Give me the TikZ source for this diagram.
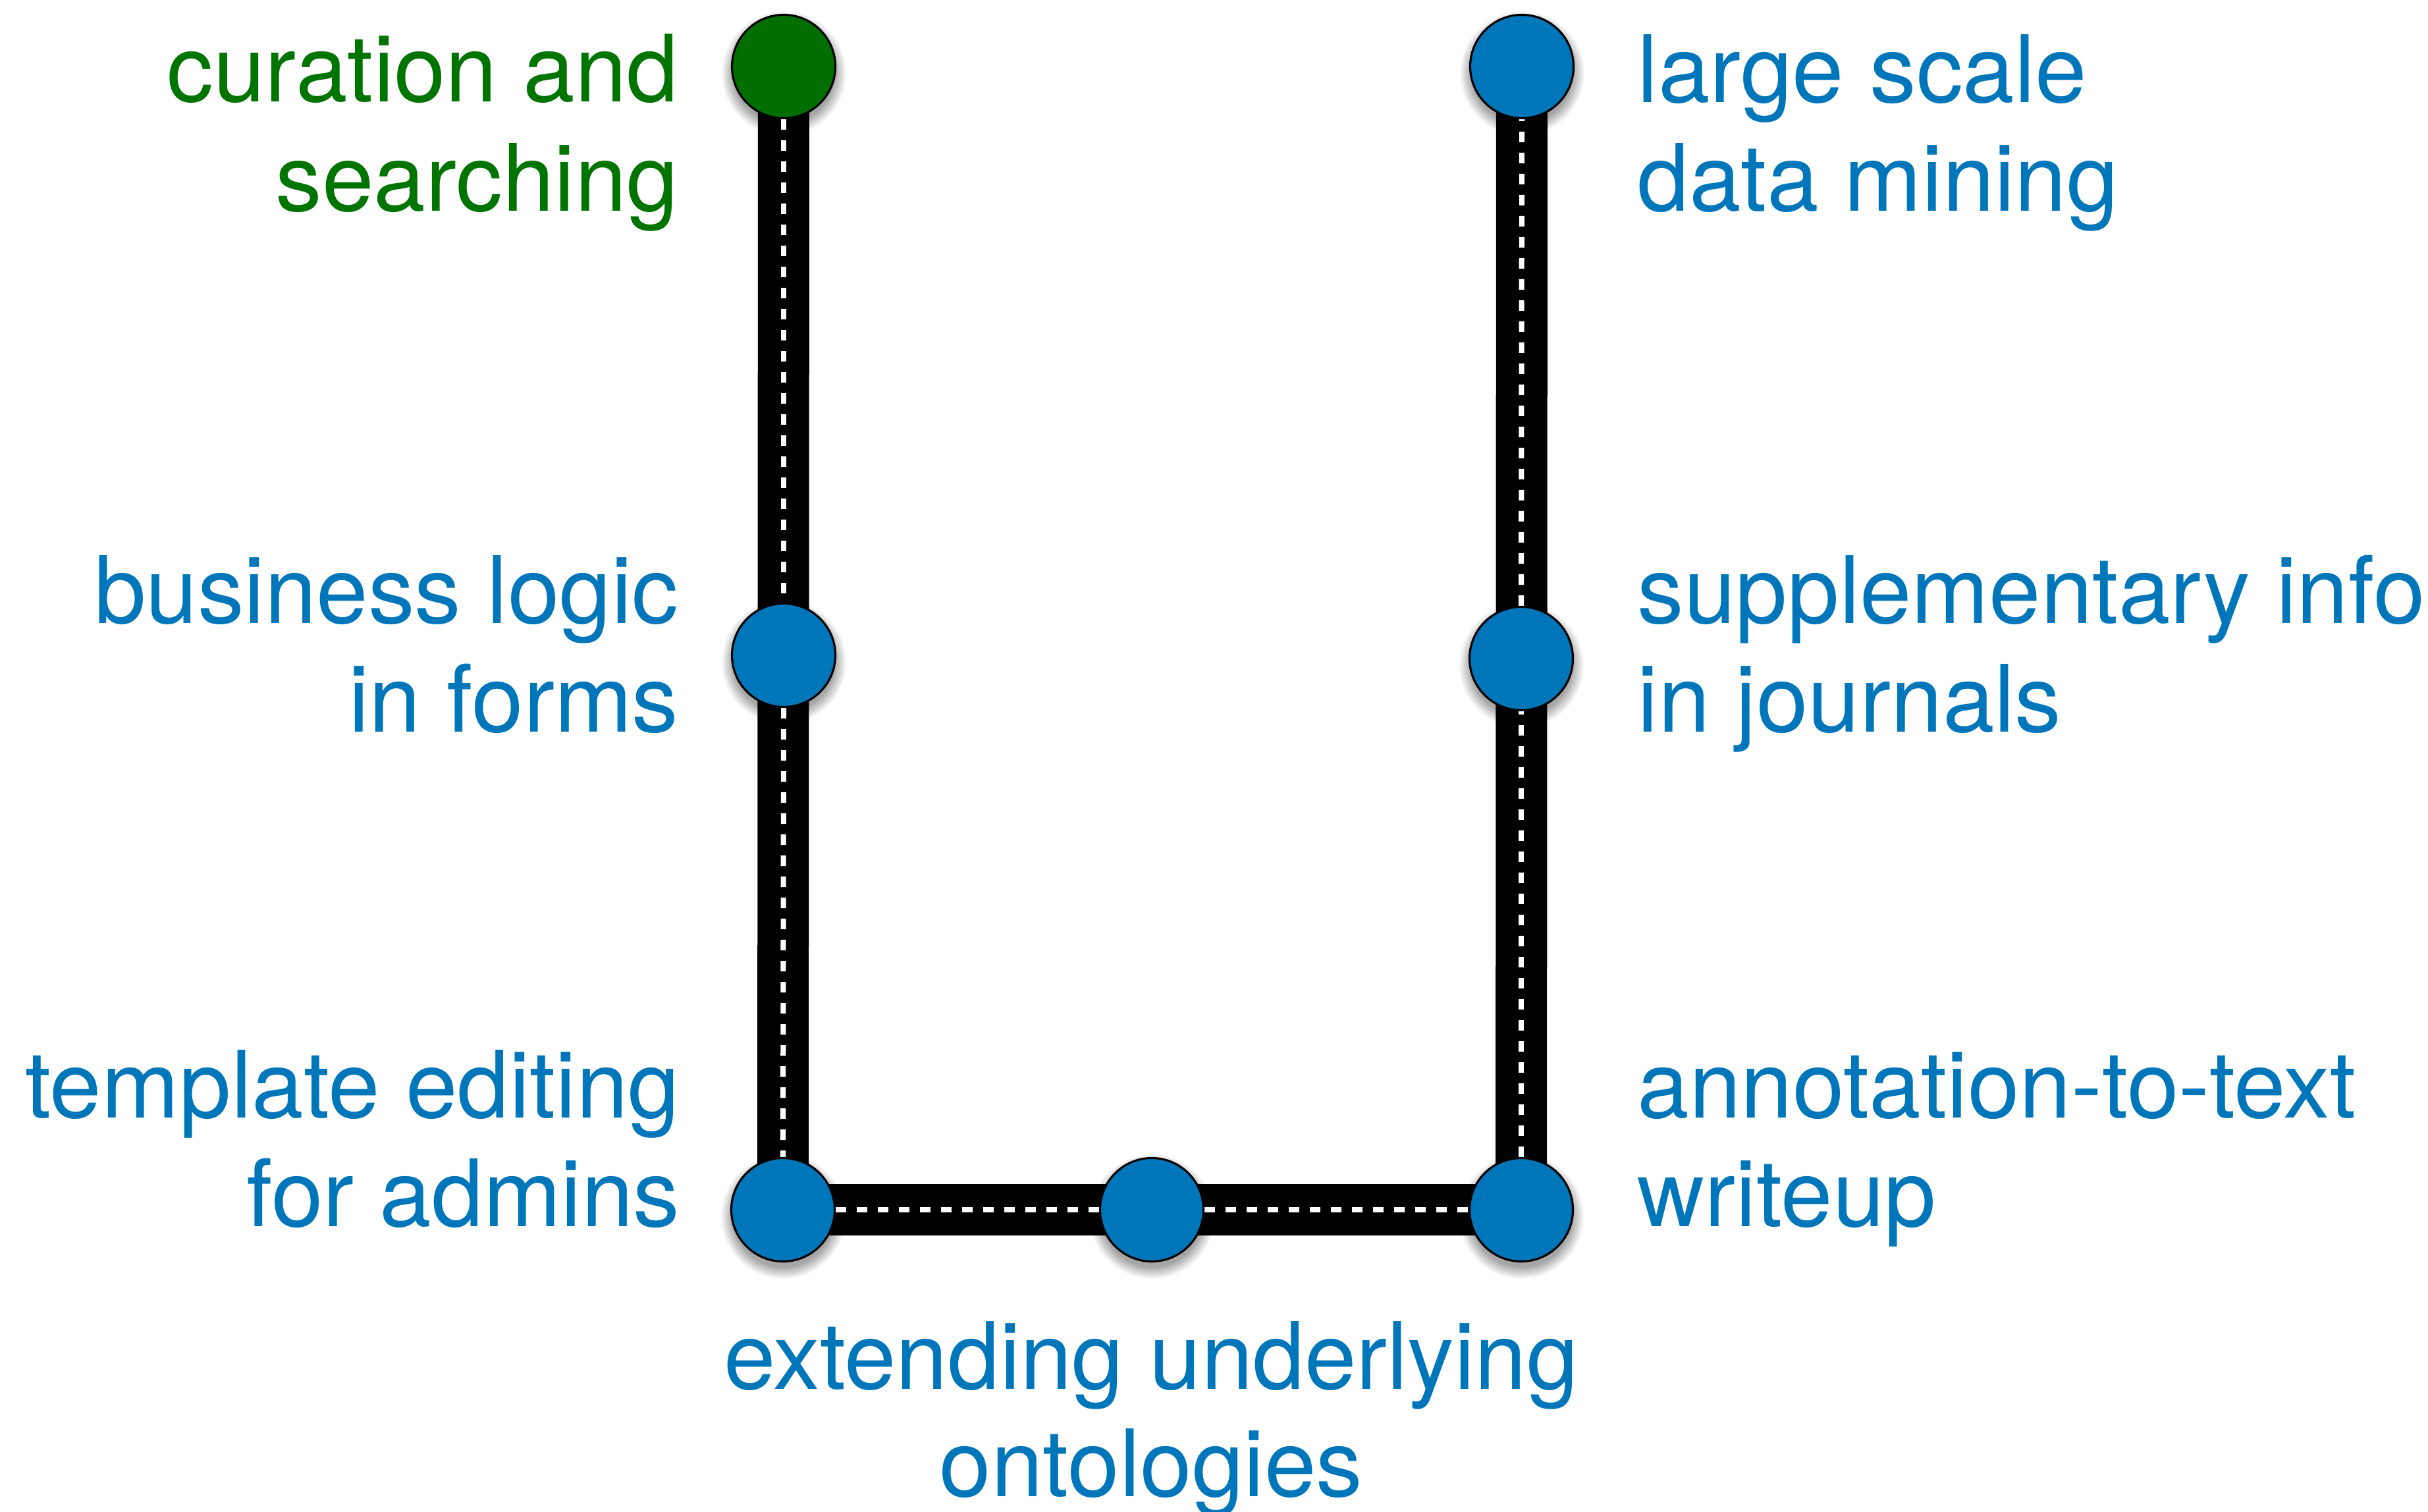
\documentclass[tikz,border=0pt]{standalone}
\usepackage{fontspec}
\setmainfont{TeX Gyre Heros}
\usetikzlibrary{backgrounds,fadings}
\definecolor{kblue}{RGB}{0,118,186}
\definecolor{kgreen}{RGB}{0,111,0}
\definecolor{tgreen}{RGB}{0,116,0}
\tikzset{
  stop/.style={circle, draw=black, line width=0.9pt, minimum size=1.57cm, inner sep=0pt, fill=kblue},
  lbl/.style={inner sep=0pt, font=\fontsize{40.2pt}{47pt}\selectfont, text=kblue},
  lblL/.style={lbl, anchor=base east},
  lblR/.style={lbl, anchor=base west},
  lblC/.style={lbl, anchor=base},
  track/.style={line width=0.78cm, black, line join=miter},
  trackdash/.style={line width=0.08cm, white, dash pattern=on 0.16cm off 0.16cm},
  shadowblob/.style={fill=black, opacity=0.35, path fading=circle with fuzzy edge 20 percent}
}
\begin{document}
\begin{tikzpicture}
\useasboundingbox (0,0) rectangle (36.87,-22.96);

% stations
\node[stop, fill=kgreen] (cur) at (11.90,-1.01) {};
\node[stop] (bus) at (11.90,-9.95) {};
\node[stop] (tpl) at (11.89,-18.37) {};
\node[stop] (ext) at (17.49,-18.37) {};
\node[stop] (ann) at (23.10,-18.37) {};
\node[stop] (sup) at (23.10,-10.00) {};
\node[stop] (lrg) at (23.11,-1.01) {};

\begin{scope}[on background layer]
  \foreach \n in {cur,bus,tpl,ext,ann,sup,lrg}{
    \fill[shadowblob] ([yshift=-0.10cm]\n.center) circle (0.95cm);
  }
  \draw[track] (cur.center) -- (tpl.center) -- (ann.center) -- (lrg.center);
  \draw[trackdash] (cur.south) -- (bus.north);
  \draw[trackdash] (bus.south) -- (tpl.north);
  \draw[trackdash] (tpl.east) -- (ext.west);
  \draw[trackdash] (ext.east) -- (ann.west);
  \draw[trackdash] (ann.north) -- (sup.south);
  \draw[trackdash] (sup.north) -- (lrg.south);
\end{scope}

% labels left
\node[lblL, text=tgreen] (curA) at (10.31,-1.55) {curation and};
\node[lblL, text=tgreen] (curB) at (10.31,-3.21) {searching};
\node[lblL] (busA) at (10.31,-9.47) {business logic};
\node[lblL] (busB) at (10.31,-11.12) {in forms};
\node[lblL] (tplA) at (10.33,-16.97) {template editing};
\node[lblL] (tplB) at (10.33,-18.62) {for admins};

% labels right
\node[lblR] (lrgA) at (24.86,-1.56) {large scale};
\node[lblR] (lrgB) at (24.86,-3.21) {data mining};
\node[lblR] (supA) at (24.86,-9.47) {supplementary info};
\node[lblR] (supB) at (24.86,-11.12) {in journals};
\node[lblR] (annA) at (24.86,-16.97) {annotation-to-text};
\node[lblR] (annB) at (24.86,-18.62) {writeup};

% bottom label
\node[lblC] (extA) at (17.48,-21.09) {extending underlying};
\node[lblC] (extB) at (17.48,-22.72) {ontologies};
\end{tikzpicture}
\end{document}
